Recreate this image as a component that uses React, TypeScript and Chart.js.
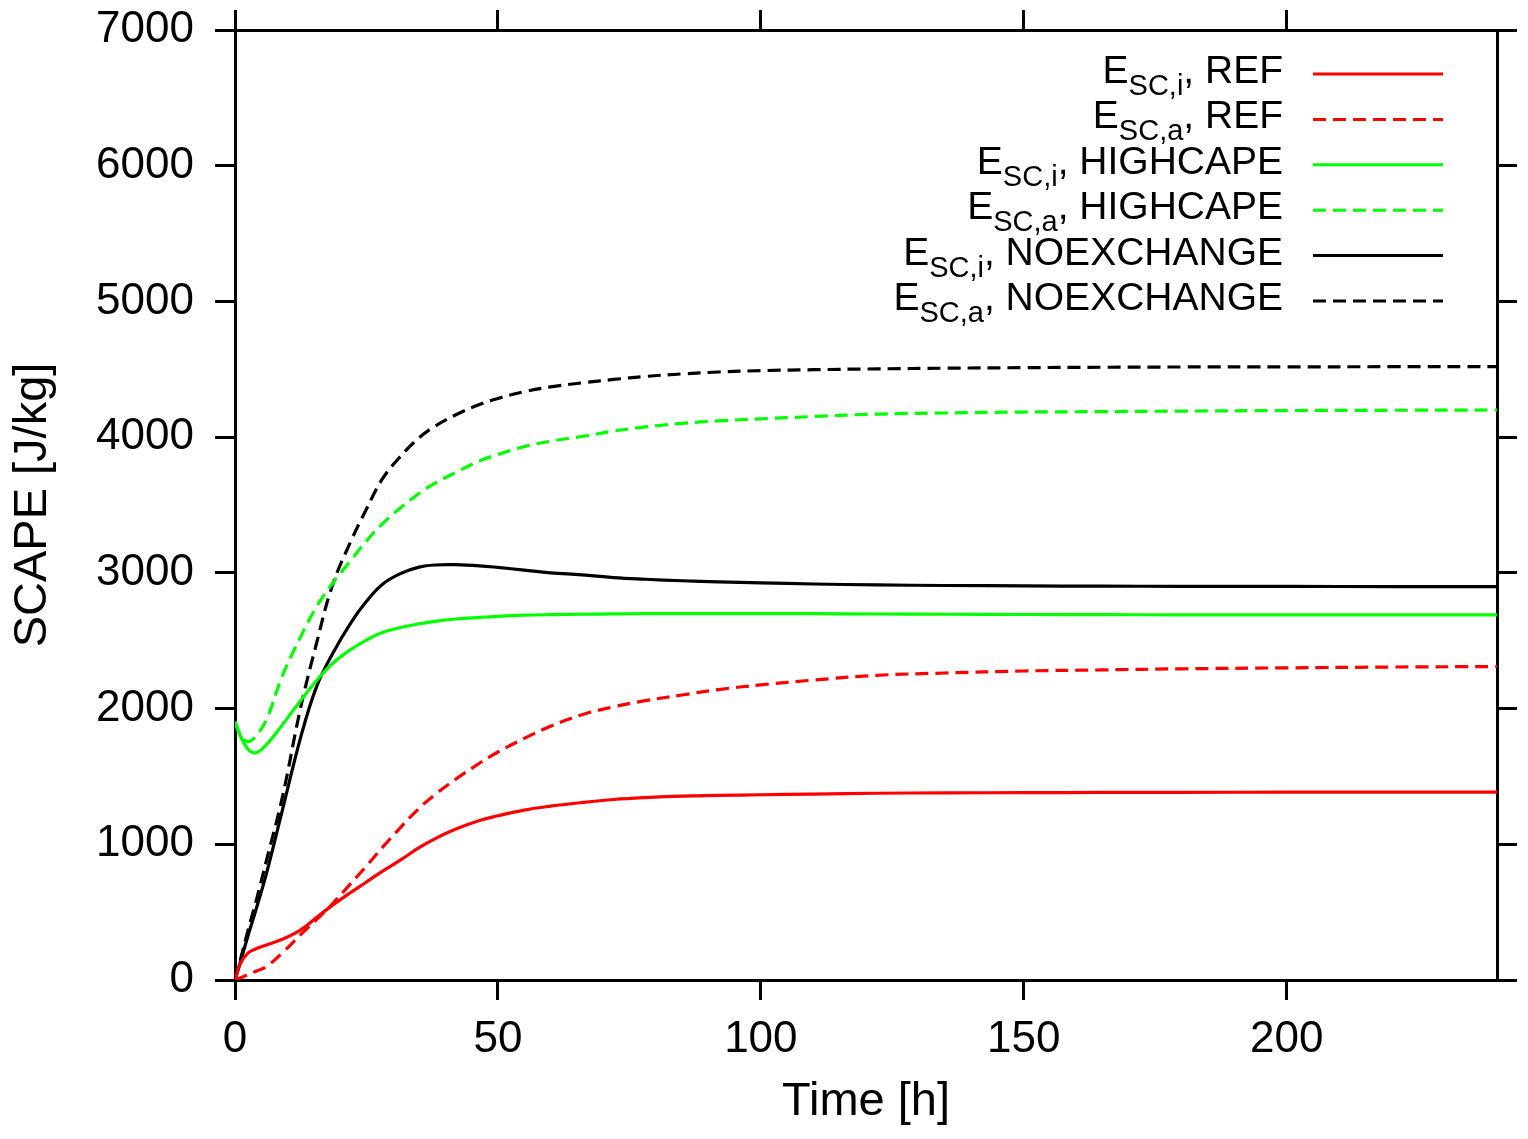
import React, { useEffect, useRef } from 'react';
import Chart from 'chart.js/auto';

// time axis (hours) shared by all runs
const hours = [0, 1, 2.5, 4, 6, 9, 12.5, 15.5, 18.5, 22, 25, 28, 31.5, 35, 38, 42, 46.5, 50, 55, 60, 66, 72, 78, 85, 92, 100, 110, 122, 135, 150, 165, 180, 200, 220, 240];

const refI = [0, 120, 200, 230, 258, 300, 370, 460, 550, 645, 722, 800, 885, 975, 1040, 1112, 1175, 1210, 1252, 1281, 1308, 1330, 1344, 1355, 1360, 1365, 1370, 1376, 1379, 1380, 1382, 1383, 1384, 1385, 1385];
const refA = [0, 15, 40, 65, 100, 200, 335, 445, 560, 710, 840, 975, 1125, 1265, 1365, 1480, 1597, 1680, 1780, 1870, 1955, 2013, 2058, 2100, 2140, 2175, 2210, 2245, 2262, 2277, 2285, 2293, 2300, 2306, 2310];
const highI = [1903, 1800, 1700, 1675, 1735, 1880, 2060, 2205, 2330, 2435, 2505, 2560, 2597, 2625, 2643, 2660, 2672, 2680, 2688, 2692, 2695, 2698, 2699, 2700, 2700, 2700, 2699, 2697, 2695, 2693, 2692, 2691, 2690, 2690, 2690];
const highA = [1903, 1810, 1756, 1800, 1920, 2240, 2530, 2750, 2920, 3090, 3235, 3360, 3480, 3585, 3660, 3740, 3825, 3872, 3930, 3970, 4005, 4045, 4075, 4102, 4120, 4135, 4152, 4170, 4178, 4185, 4188, 4192, 4196, 4198, 4200];
const noexI = [0, 130, 330, 520, 788, 1250, 1790, 2160, 2400, 2630, 2790, 2915, 2995, 3042, 3058, 3060, 3052, 3040, 3020, 3000, 2985, 2965, 2953, 2942, 2933, 2926, 2918, 2911, 2907, 2904, 2902, 2901, 2900, 2899, 2899];
const noexA = [0, 145, 370, 580, 884, 1345, 2010, 2480, 2905, 3230, 3470, 3690, 3860, 3995, 4080, 4165, 4240, 4285, 4335, 4370, 4400, 4425, 4447, 4466, 4480, 4490, 4497, 4503, 4508, 4512, 4515, 4517, 4518, 4519, 4520];

const labelSubs = ['SC,i', 'SC,a', 'SC,i', 'SC,a', 'SC,i', 'SC,a'];
const runNames = ['REF', 'REF', 'HIGHCAPE', 'HIGHCAPE', 'NOEXCHANGE', 'NOEXCHANGE'];

const FONT = '"Liberation Sans", Arial, Helvetica, sans-serif';

// legend with subscripts, drawn straight on the canvas
const subLegend = {
  id: 'subLegend',
  afterDraw(chart: any) {
    const { ctx, chartArea } = chart;
    const textRight = chartArea.right - 214;
    const lineStart = chartArea.right - 184;
    const lineEnd = chartArea.right - 54;
    ctx.save();
    chart.data.datasets.forEach((ds: any, i: number) => {
      const y = chartArea.top + 44 + i * 45.4;
      const base = y + 9;
      const tail = ', ' + runNames[i];
      ctx.font = '39px ' + FONT;
      const wE = ctx.measureText('E').width;
      const wTail = ctx.measureText(tail).width;
      ctx.font = '29px ' + FONT;
      const wSub = ctx.measureText(labelSubs[i]).width;
      let x = textRight - (wE + wSub + wTail);
      ctx.fillStyle = '#000';
      ctx.textBaseline = 'alphabetic';
      ctx.textAlign = 'left';
      ctx.font = '39px ' + FONT;
      ctx.fillText('E', x, base);
      x += wE;
      ctx.font = '29px ' + FONT;
      ctx.fillText(labelSubs[i], x, base + 12);
      x += wSub;
      ctx.font = '39px ' + FONT;
      ctx.fillText(tail, x, base);

      ctx.strokeStyle = ds.borderColor;
      ctx.lineWidth = 3;
      ctx.setLineDash(ds.borderDash || []);
      ctx.beginPath();
      ctx.moveTo(lineStart, y);
      ctx.lineTo(lineEnd, y);
      ctx.stroke();
    });
    ctx.restore();
  },
};

const toPoints = (vals: number[]) => hours.map((h, i) => ({ x: h, y: vals[i] }));

const axisGrid = { drawOnChartArea: false, drawTicks: true, tickLength: 20, lineWidth: 3, color: '#000' };
const axisBorder = { display: true, color: '#000', width: 3 };
const plain = (v: any) => String(v);
const noPad = (s: any) => { s.paddingTop = 0; s.paddingBottom = 0; s.paddingLeft = 0; s.paddingRight = 0; };

const App: React.FC = () => {
  const chartRef = useRef<HTMLCanvasElement>(null);
  const chartInstance = useRef<Chart | null>(null);

  useEffect(() => {
    if (!chartRef.current) return;
    if (chartInstance.current) chartInstance.current.destroy();

    const series = [
      { vals: refI, color: '#ff0000', dash: [] },
      { vals: refA, color: '#ff0000', dash: [13, 7] },
      { vals: highI, color: '#00ff00', dash: [] },
      { vals: highA, color: '#00ff00', dash: [13, 7] },
      { vals: noexI, color: '#000000', dash: [] },
      { vals: noexA, color: '#000000', dash: [13, 7] },
    ];

    chartInstance.current = new Chart(chartRef.current, {
      type: 'line',
      data: {
        datasets: series.map((s, i) => ({
          label: 'E' + labelSubs[i] + ', ' + runNames[i],
          data: toPoints(s.vals),
          borderColor: s.color,
          borderDash: s.dash,
          borderWidth: 3.2,
          pointRadius: 0,
          fill: false,
          tension: 0.4,
          xAxisID: 'x',
          yAxisID: 'y',
        })),
      },
      options: {
        animation: false,
        responsive: false,
        devicePixelRatio: 1,
        layout: { padding: 0 },
        plugins: { legend: { display: false }, tooltip: { enabled: false } },
        scales: {
          x: {
            type: 'linear',
            position: 'bottom',
            min: 0,
            max: 240,
            ticks: { stepSize: 50, includeBounds: false, maxRotation: 0, padding: 13, color: '#000', font: { family: FONT, size: 44 }, callback: plain },
            grid: axisGrid,
            border: axisBorder,
            title: { display: true, text: 'Time [h]', color: '#000', font: { family: FONT, size: 47 }, padding: { top: 0, bottom: 9 } },
            afterFit: (s: any) => { s.height = 159; noPad(s); },
          },
          x2: {
            type: 'linear',
            position: 'top',
            min: 0,
            max: 240,
            ticks: { stepSize: 50, includeBounds: false, display: false },
            grid: axisGrid,
            border: axisBorder,
            afterFit: (s: any) => { s.height = 30; noPad(s); },
          },
          y: {
            type: 'linear',
            position: 'left',
            min: 0,
            max: 7000,
            ticks: { stepSize: 1000, padding: 21, color: '#000', font: { family: FONT, size: 44 }, callback: plain },
            grid: axisGrid,
            border: axisBorder,
            title: { display: true, text: 'SCAPE [J/kg]', color: '#000', font: { family: FONT, size: 47 }, padding: { top: 5, bottom: 0 } },
            afterFit: (s: any) => { s.width = 235; noPad(s); },
          },
          y2: {
            type: 'linear',
            position: 'right',
            min: 0,
            max: 7000,
            ticks: { stepSize: 1000, display: false },
            grid: axisGrid,
            border: axisBorder,
            afterFit: (s: any) => { s.width = 31; noPad(s); },
          },
        },
      },
      plugins: [subLegend],
    } as any);

    return () => {
      if (chartInstance.current) {
        chartInstance.current.destroy();
        chartInstance.current = null;
      }
    };
  }, []);

  return (
    <div style={{ position: 'absolute', left: 0, top: 0, width: 1528, height: 1139, background: '#fff' }}>
      <canvas ref={chartRef} width={1528} height={1139} style={{ display: 'block' }} />
    </div>
  );
};

export default App;
